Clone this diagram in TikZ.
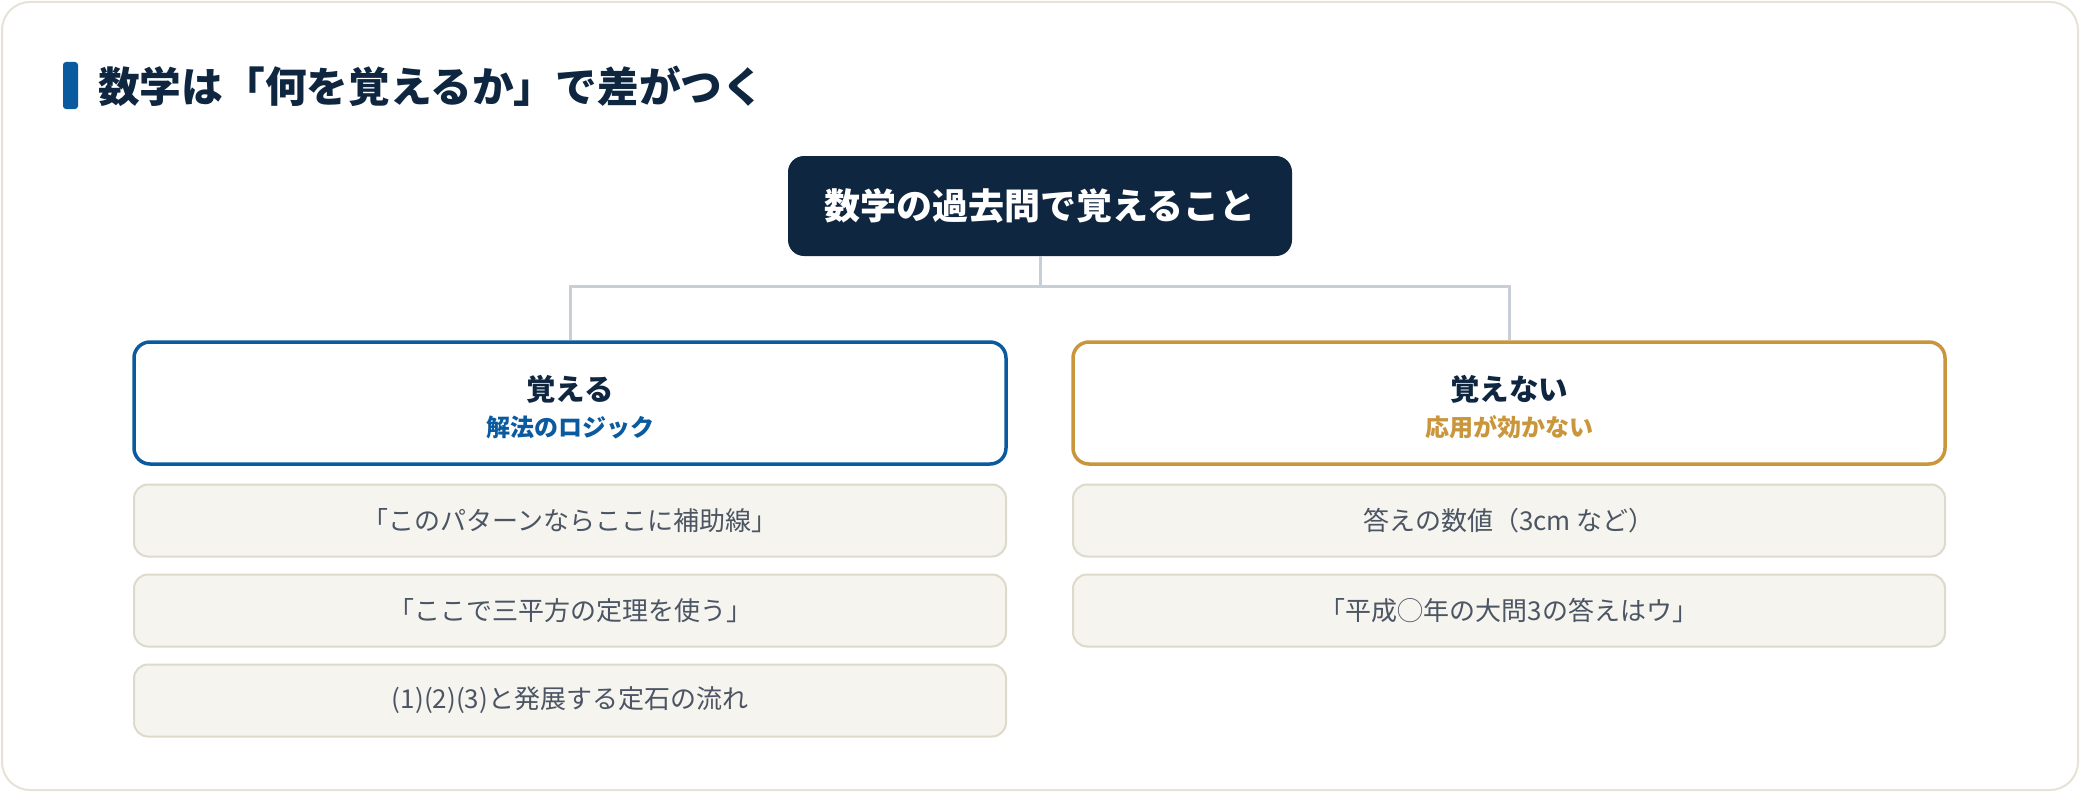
\documentclass[tikz,border=0pt]{standalone}
\usepackage{fontspec}
\setmainfont{Noto Sans CJK JP}
\definecolor{navy}{HTML}{0F2640}
\definecolor{accent}{HTML}{0A5A9F}
\definecolor{gold}{HTML}{C9963B}
\definecolor{connc}{HTML}{C8CED8}
\definecolor{itemfill}{HTML}{F5F4EF}
\definecolor{itemline}{HTML}{DDDACB}
\definecolor{itemtext}{HTML}{4B5563}
\definecolor{cardline}{HTML}{E6E3D6}
\tikzset{
  cardframe/.style={draw=cardline, line width=2pt, fill=white, rounded corners=28pt},
  topbox/.style={fill=navy, text=white, rounded corners=16pt, minimum width=504pt, minimum height=100pt, inner sep=0pt, font=\fontsize{36}{43}\selectfont\bfseries},
  catbox/.style={fill=white, line width=3.5pt, rounded corners=16pt, minimum width=872pt, minimum height=122pt, inner sep=0pt},
  cattitle/.style={text=navy, inner sep=0pt, font=\fontsize{29.5}{35}\selectfont\bfseries},
  catsub/.style={inner sep=0pt, font=\fontsize{24}{29}\selectfont\bfseries},
  itembox/.style={fill=itemfill, draw=itemline, line width=2pt, rounded corners=14pt, minimum width=872pt, minimum height=72pt, inner sep=0pt, text=itemtext, font=\fontsize{26}{31}\selectfont},
  conn/.style={draw=connc, line width=3pt},
}
\begin{document}
\begin{tikzpicture}[x=1pt, y=-1pt]
\useasboundingbox (0,0) rectangle (2080,792);
\path[cardframe] (2,2) rectangle (2078,790);
\fill[accent, rounded corners=3pt] (63,62) rectangle (78,109);
\node[anchor=west, inner sep=0pt, text=navy, font=\fontsize{41.7}{50}\selectfont\bfseries] (title) at (98,86) {数学は「何を覚えるか」で差がつく};

\node[topbox] (top) at (1040,206) {数学の過去問で覚えること};

\node[catbox, draw=accent] (L) at (570,403) {};
\node[catbox, draw=gold] (R) at (1509,403) {};
\node[cattitle] (Lt) at (570,389) {覚える};
\node[catsub, text=accent] (Ls) at (570,427) {解法のロジック};
\node[cattitle] (Rt) at (1509,389) {覚えない};
\node[catsub, text=gold] (Rs) at (1509,427) {応用が効かない};

\draw[conn] (top.south) -- ++(0,30) -| (L.north);
\draw[conn] (top.south) -- ++(0,30) -| (R.north);

\node[itembox] (L1) at (570,520.5) {「このパターンならここに補助線」};
\node[itembox] (L2) at (570,610.5) {「ここで三平方の定理を使う」};
\node[itembox] (L3) at (570,700.5) {(1)(2)(3)と発展する定石の流れ};
\node[itembox] (R1) at (1509,520.5) {答えの数値（3cm など）};
\node[itembox] (R2) at (1509,610.5) {「平成◯年の大問3の答えはウ」};
\end{tikzpicture}
\end{document}
